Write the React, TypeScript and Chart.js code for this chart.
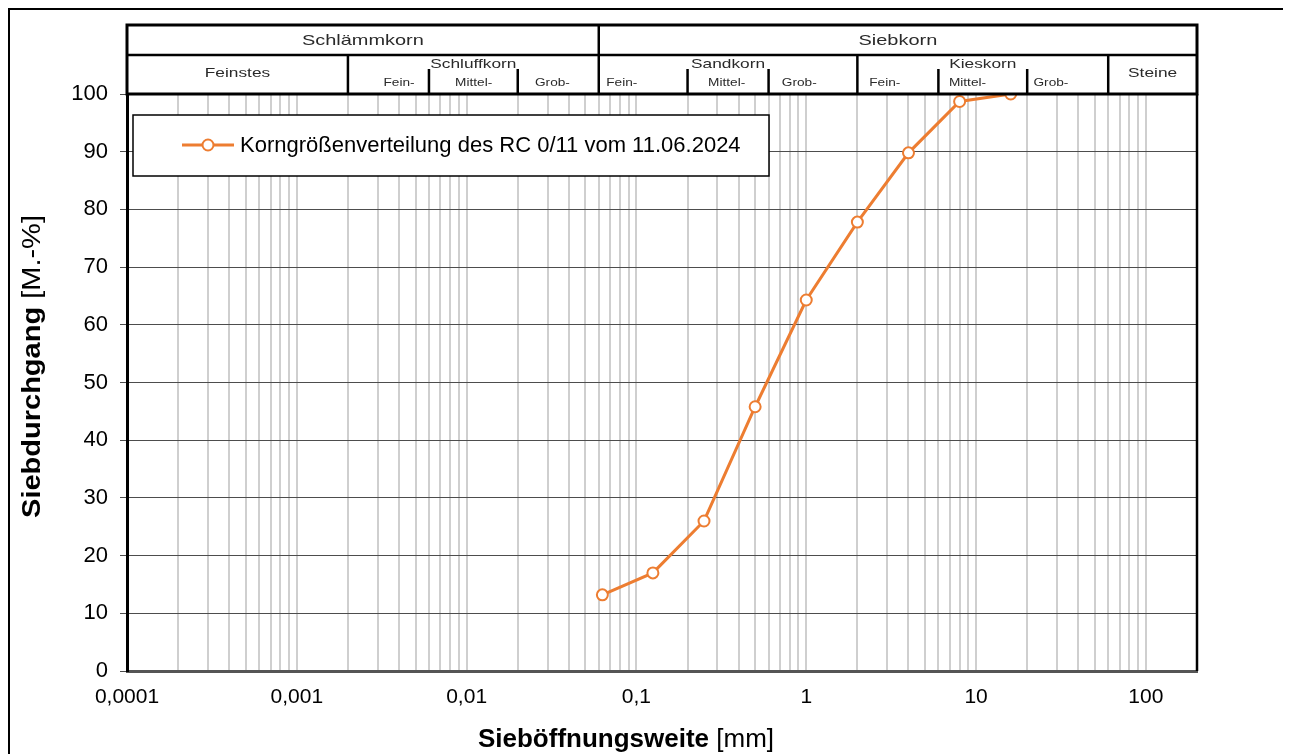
import React, { useEffect, useRef } from "react";
import { Chart, registerables } from "chart.js";

Chart.register(...registerables);

// ---------- data ----------
const sieveSizes = [0.063, 0.125, 0.25, 0.5, 1, 2, 4, 8, 16];
const passing = [13.2, 17, 26, 45.8, 64.3, 77.8, 89.8, 98.7, 100];
const seriesLabel = "Korngrößenverteilung des RC 0/11 vom 11.06.2024";

const xDecades = [0.0001, 0.001, 0.01, 0.1, 1, 10, 100];
const xTickLabels = ["0,0001", "0,001", "0,01", "0,1", "1", "10", "100"];
const xMin = 0.0001;
const xMax = 200;
const yMin = 0;
const yMax = 100;
const yStep = 10;

const yTitleBold = "Siebdurchgang";
const yTitleUnit = "[M.-%]";
const xTitleBold = "Sieböffnungsweite";
const xTitleUnit = "[mm]";

// header (soil classification) in mm
const topGroups = [
  { label: "Schlämmkorn", from: 0.0001, to: 0.06 },
  { label: "Siebkorn", from: 0.06, to: 200 },
];
const midGroups = [
  { label: "Feinstes", from: 0.0001, to: 0.002, hasSub: false },
  { label: "Schluffkorn", from: 0.002, to: 0.06, hasSub: true },
  { label: "Sandkorn", from: 0.06, to: 2, hasSub: true },
  { label: "Kieskorn", from: 2, to: 60, hasSub: true },
  { label: "Steine", from: 60, to: 200, hasSub: false },
];
const subDividers = [0.006, 0.02, 0.2, 0.6, 6, 20];
const subLabels = ["Fein-", "Mittel-", "Grob-", "Fein-", "Mittel-", "Grob-", "Fein-", "Mittel-", "Grob-"];
const subLabelAt = [0.004, 0.011, 0.032, 0.082, 0.34, 0.91, 2.9, 8.9, 27.6];

// ---------- styling ----------
const FONT = "'Liberation Sans', Arial, Helvetica, sans-serif";
const ORANGE = "#ED7D31";

function buildXTicks(): number[] {
  const out: number[] = [];
  for (const d of xDecades) {
    for (let m = 1; m <= 9; m++) {
      const v = m * d;
      if (v <= xMax * 1.0000001) out.push(v);
    }
  }
  out.push(xMax);
  return out;
}

function isSame(a: number, b: number) {
  return Math.abs(a - b) / b < 1e-6;
}

function stretchText(
  ctx: CanvasRenderingContext2D,
  text: string,
  x: number,
  y: number,
  size: number,
  sx: number,
  color = "#2a2a2a"
) {
  ctx.save();
  ctx.font = `normal ${size}px ${FONT}`;
  ctx.fillStyle = color;
  ctx.textAlign = "center";
  ctx.textBaseline = "middle";
  ctx.translate(x, y);
  ctx.scale(sx, 1);
  ctx.fillText(text, 0, 0);
  ctx.restore();
}

const decorPlugin = {
  id: "decor",
  beforeDraw(chart: any) {
    const ctx = chart.ctx as CanvasRenderingContext2D;
    ctx.save();
    ctx.fillStyle = "#fff";
    ctx.fillRect(0, 0, chart.width, chart.height);
    ctx.restore();
  },
  afterDraw(chart: any) {
    const ctx = chart.ctx as CanvasRenderingContext2D;
    const area = chart.chartArea;
    const xs = chart.scales.x;
    const px = (v: number) => xs.getPixelForValue(v);

    ctx.save();
    // outer frame
    ctx.strokeStyle = "#000";
    ctx.lineWidth = 2;
    ctx.strokeRect(1, 1, chart.width - 3, chart.height + 20);

    // right border of plot
    ctx.lineWidth = 2.5;
    ctx.beginPath();
    ctx.moveTo(area.right, area.top);
    ctx.lineTo(area.right, area.bottom);
    ctx.stroke();

    // ---- header table ----
    const hTop = area.top - 69;
    const hMid = area.top - 39;
    const hBot = area.top;
    const L = area.left;
    const R = area.right;
    ctx.fillStyle = "#fff";
    ctx.fillRect(L, hTop, R - L, hBot - hTop);

    ctx.strokeStyle = "#000";
    ctx.lineWidth = 3;
    ctx.strokeRect(L, hTop, R - L, hBot - hTop);
    ctx.lineWidth = 2.5;
    ctx.beginPath();
    ctx.moveTo(L, hMid);
    ctx.lineTo(R, hMid);
    ctx.stroke();

    // row 1 dividers + labels
    topGroups.forEach((g, i) => {
      const a = px(g.from);
      const b = px(g.to);
      if (i > 0) {
        ctx.lineWidth = 2.5;
        ctx.beginPath();
        ctx.moveTo(a, hTop);
        ctx.lineTo(a, hMid);
        ctx.stroke();
      }
      stretchText(ctx, g.label, (a + b) / 2, (hTop + hMid) / 2 + 1, 15, 1.33);
    });

    // row 2 dividers + labels
    midGroups.forEach((g, i) => {
      const a = px(g.from);
      const b = px(g.to);
      if (i > 0) {
        ctx.lineWidth = 2.5;
        ctx.beginPath();
        ctx.moveTo(a, hMid);
        ctx.lineTo(a, hBot);
        ctx.stroke();
      }
      const y = g.hasSub ? hMid + 9 : (hMid + hBot) / 2 - 1;
      stretchText(ctx, g.label, (a + b) / 2, y, 13, 1.33);
    });

    // sub dividers
    ctx.lineWidth = 2.5;
    subDividers.forEach((v) => {
      const x = px(v);
      ctx.beginPath();
      ctx.moveTo(x, hMid + 14);
      ctx.lineTo(x, hBot);
      ctx.stroke();
    });
    subLabels.forEach((t, i) => {
      stretchText(ctx, t, px(subLabelAt[i]), hBot - 11, 10.5, 1.3);
    });

    // ---- legend box ----
    const bx = area.left + 6;
    const by = area.top + 21;
    const bw = 636;
    const bh = 61;
    ctx.fillStyle = "#fff";
    ctx.fillRect(bx, by, bw, bh);
    ctx.strokeStyle = "#000";
    ctx.lineWidth = 1.5;
    ctx.strokeRect(bx, by, bw, bh);
    const ly = by + 30;
    ctx.strokeStyle = ORANGE;
    ctx.lineWidth = 3;
    ctx.beginPath();
    ctx.moveTo(bx + 49, ly);
    ctx.lineTo(bx + 101, ly);
    ctx.stroke();
    ctx.beginPath();
    ctx.arc(bx + 75, ly, 5.5, 0, Math.PI * 2);
    ctx.fillStyle = "#fff";
    ctx.fill();
    ctx.lineWidth = 2;
    ctx.stroke();
    ctx.fillStyle = "#000";
    ctx.font = `normal 22px ${FONT}`;
    ctx.textAlign = "left";
    ctx.textBaseline = "middle";
    ctx.fillText(seriesLabel, bx + 107, ly + 1);

    // ---- axis titles ----
    const boldF = `bold 26px ${FONT}`;
    const normF = `normal 26px ${FONT}`;
    ctx.fillStyle = "#000";
    ctx.textBaseline = "middle";
    ctx.textAlign = "left";
    ctx.font = boldF;
    const wb = ctx.measureText(xTitleBold + " ").width;
    ctx.font = normF;
    const wn = ctx.measureText(xTitleUnit).width;
    const xc = (area.left + area.right) / 2 - 36;
    const xStart = xc - (wb + wn) / 2;
    const xTitleY = chart.height - 14;
    ctx.font = boldF;
    ctx.fillText(xTitleBold + " ", xStart, xTitleY);
    ctx.font = normF;
    ctx.fillText(xTitleUnit, xStart + wb, xTitleY);

    // y title rotated (stretched along its length)
    const yBoldF = `bold 25px ${FONT}`;
    const yNormF = `normal 25px ${FONT}`;
    const stretch = 1.16;
    ctx.font = yBoldF;
    const ywb = ctx.measureText(yTitleBold + " ").width;
    ctx.font = yNormF;
    const ywn = ctx.measureText(yTitleUnit).width;
    const yc = (area.top + area.bottom) / 2 - 16;
    ctx.save();
    ctx.translate(25, yc);
    ctx.rotate(-Math.PI / 2);
    ctx.scale(stretch, 1);
    const ys = -(ywb + ywn) / 2;
    ctx.font = yBoldF;
    ctx.fillText(yTitleBold + " ", ys, 0);
    ctx.font = yNormF;
    ctx.fillText(yTitleUnit, ys + ywb, 0);
    ctx.restore();

    ctx.restore();
  },
};

export default function App() {
  const ref = useRef<HTMLCanvasElement | null>(null);

  useEffect(() => {
    if (!ref.current) return;
    const points = sieveSizes.map((x, i) => ({ x, y: passing[i] }));
    const chart = new Chart(ref.current, {
      type: "line",
      data: {
        datasets: [
          {
            label: seriesLabel,
            data: points,
            borderColor: ORANGE,
            borderWidth: 3,
            backgroundColor: "#fff",
            pointRadius: 5.5,
            pointBorderWidth: 2,
            pointBackgroundColor: "#fff",
            pointBorderColor: ORANGE,
            tension: 0,
            clip: false as any,
          },
        ],
      },
      options: {
        animation: false,
        responsive: false,
        devicePixelRatio: 1,
        layout: { padding: { top: 86, right: 91, left: 0, bottom: 0 } },
        plugins: {
          legend: { display: false },
          tooltip: { enabled: false },
        },
        scales: {
          x: {
            type: "logarithmic",
            min: xMin,
            max: xMax,
            afterBuildTicks: (s: any) => {
              s.ticks = buildXTicks().map((v) => ({ value: v }));
            },
            afterFit: (s: any) => {
              s.height = 83;
            },
            ticks: {
              autoSkip: false,
              maxRotation: 0,
              minRotation: 0,
              padding: 14,
              color: "#000",
              font: { family: FONT, size: 21 },
              callback: (value: any) => {
                const v = Number(value);
                const i = xDecades.findIndex((d) => isSame(v, d));
                return i >= 0 ? xTickLabels[i] : "";
              },
            },
            grid: {
              drawTicks: false,
              lineWidth: 2,
              color: (c: any) => {
                const v = c.tick ? c.tick.value : 0;
                if (isSame(v, xMin) || isSame(v, xMax)) return "rgba(0,0,0,0)";
                return "#cfcfcf";
              },
            },
            border: { color: "#555", width: 3 },
          },
          y: {
            type: "linear",
            min: yMin,
            max: yMax,
            afterFit: (s: any) => {
              s.width = 119;
            },
            ticks: {
              stepSize: yStep,
              padding: 12,
              color: "#000",
              font: { family: FONT, size: 22 },
            },
            grid: {
              color: "#4d4d4d",
              lineWidth: 1,
              tickLength: 7,
              tickColor: "#4d4d4d",
            },
            border: { color: "#000", width: 3 },
          },
        },
      },
      plugins: [decorPlugin],
    });
    return () => chart.destroy();
  }, []);

  return (
    <div style={{ width: 1280, height: 746 }}>
      <canvas ref={ref} width={1280} height={746} style={{ display: "block" }} />
    </div>
  );
}
